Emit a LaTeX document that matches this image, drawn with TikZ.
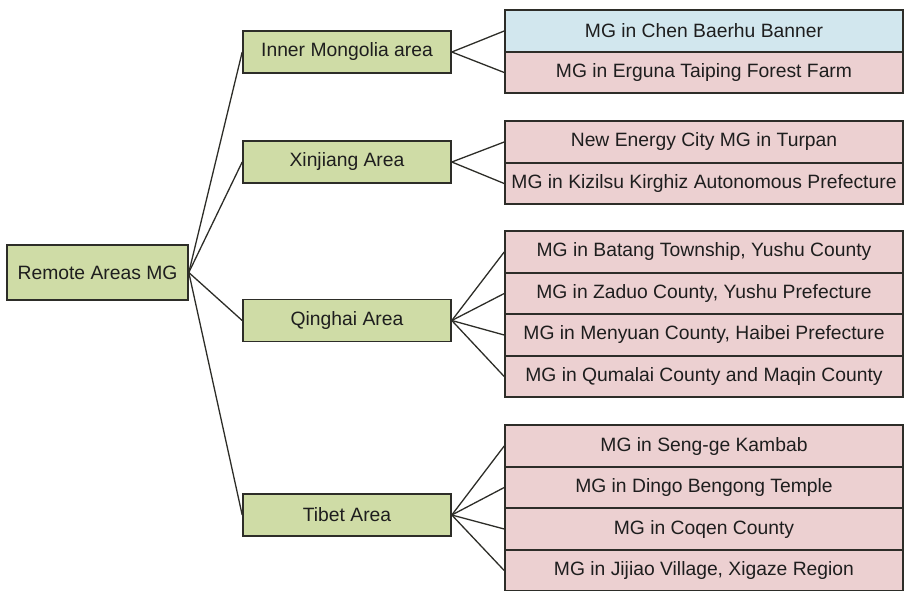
\documentclass[tikz,border=0pt]{standalone}
\usepackage{fontspec}
\setmainfont{Liberation Sans}
\definecolor{gfill}{RGB}{207,220,166}
\definecolor{pfill}{RGB}{236,208,209}
\definecolor{bfill}{RGB}{210,231,238}
\definecolor{edge}{RGB}{45,45,40}
\definecolor{txt}{RGB}{30,30,30}
\begin{document}
\begin{tikzpicture}[x=1pt,y=-1pt,
  box/.style={draw=edge,line width=1.6pt,inner sep=0pt,text=txt,font=\fontsize{19.3}{21}\selectfont},
  rootbox/.style={box,fill=gfill,minimum width=181pt,minimum height=55pt},
  midbox/.style={box,fill=gfill,minimum width=208pt,minimum height=42pt},
  leaf/.style={box,fill=pfill,minimum width=398pt,minimum height=41.5pt},
  leafb/.style={leaf,fill=bfill},
  conn/.style={draw=edge,line width=1.3pt}]
\useasboundingbox (0,0) rectangle (904,590);
\node[rootbox] (root) at (97.5,272.5) {Remote Areas MG};
\node[midbox] (im) at (347,52) {Inner Mongolia area};
\node[midbox] (xj) at (347,162) {Xinjiang Area};
\node[midbox] (qh) at (347,320.5) {Qinghai Area};
\node[midbox] (tb) at (347,515) {Tibet Area};
% Inner Mongolia leaves
\node[leafb] (im1) at (704,31) {MG in Chen Baerhu Banner};
\node[leaf] (im2) at (704,72.5) {MG in Erguna Taiping Forest Farm};
% Xinjiang leaves
\node[leaf] (xj1) at (704,142) {New Energy City MG in Turpan};
\node[leaf] (xj2) at (704,183.5) {MG in Kizilsu Kirghiz Autonomous Prefecture};
% Qinghai leaves
\node[leaf] (qh1) at (704,252) {MG in Batang Township, Yushu County};
\node[leaf] (qh2) at (704,293.5) {MG in Zaduo County, Yushu Prefecture};
\node[leaf] (qh3) at (704,335) {MG in Menyuan County, Haibei Prefecture};
\node[leaf] (qh4) at (704,376.5) {MG in Qumalai County and Maqin County};
% Tibet leaves
\node[leaf] (tb1) at (704,446) {MG in Seng-ge Kambab};
\node[leaf] (tb2) at (704,487.5) {MG in Dingo Bengong Temple};
\node[leaf] (tb3) at (704,529) {MG in Coqen County};
\node[leaf] (tb4) at (704,570.5) {MG in Jijiao Village, Xigaze Region};
% connectors
\foreach \m in {im,xj,qh,tb} \draw[conn] (root.east) -- (\m.west);
\foreach \l in {im1,im2} \draw[conn] (im.east) -- (\l.west);
\foreach \l in {xj1,xj2} \draw[conn] (xj.east) -- (\l.west);
\foreach \l in {qh1,qh2,qh3,qh4} \draw[conn] (qh.east) -- (\l.west);
\foreach \l in {tb1,tb2,tb3,tb4} \draw[conn] (tb.east) -- (\l.west);
\end{tikzpicture}
\end{document}
